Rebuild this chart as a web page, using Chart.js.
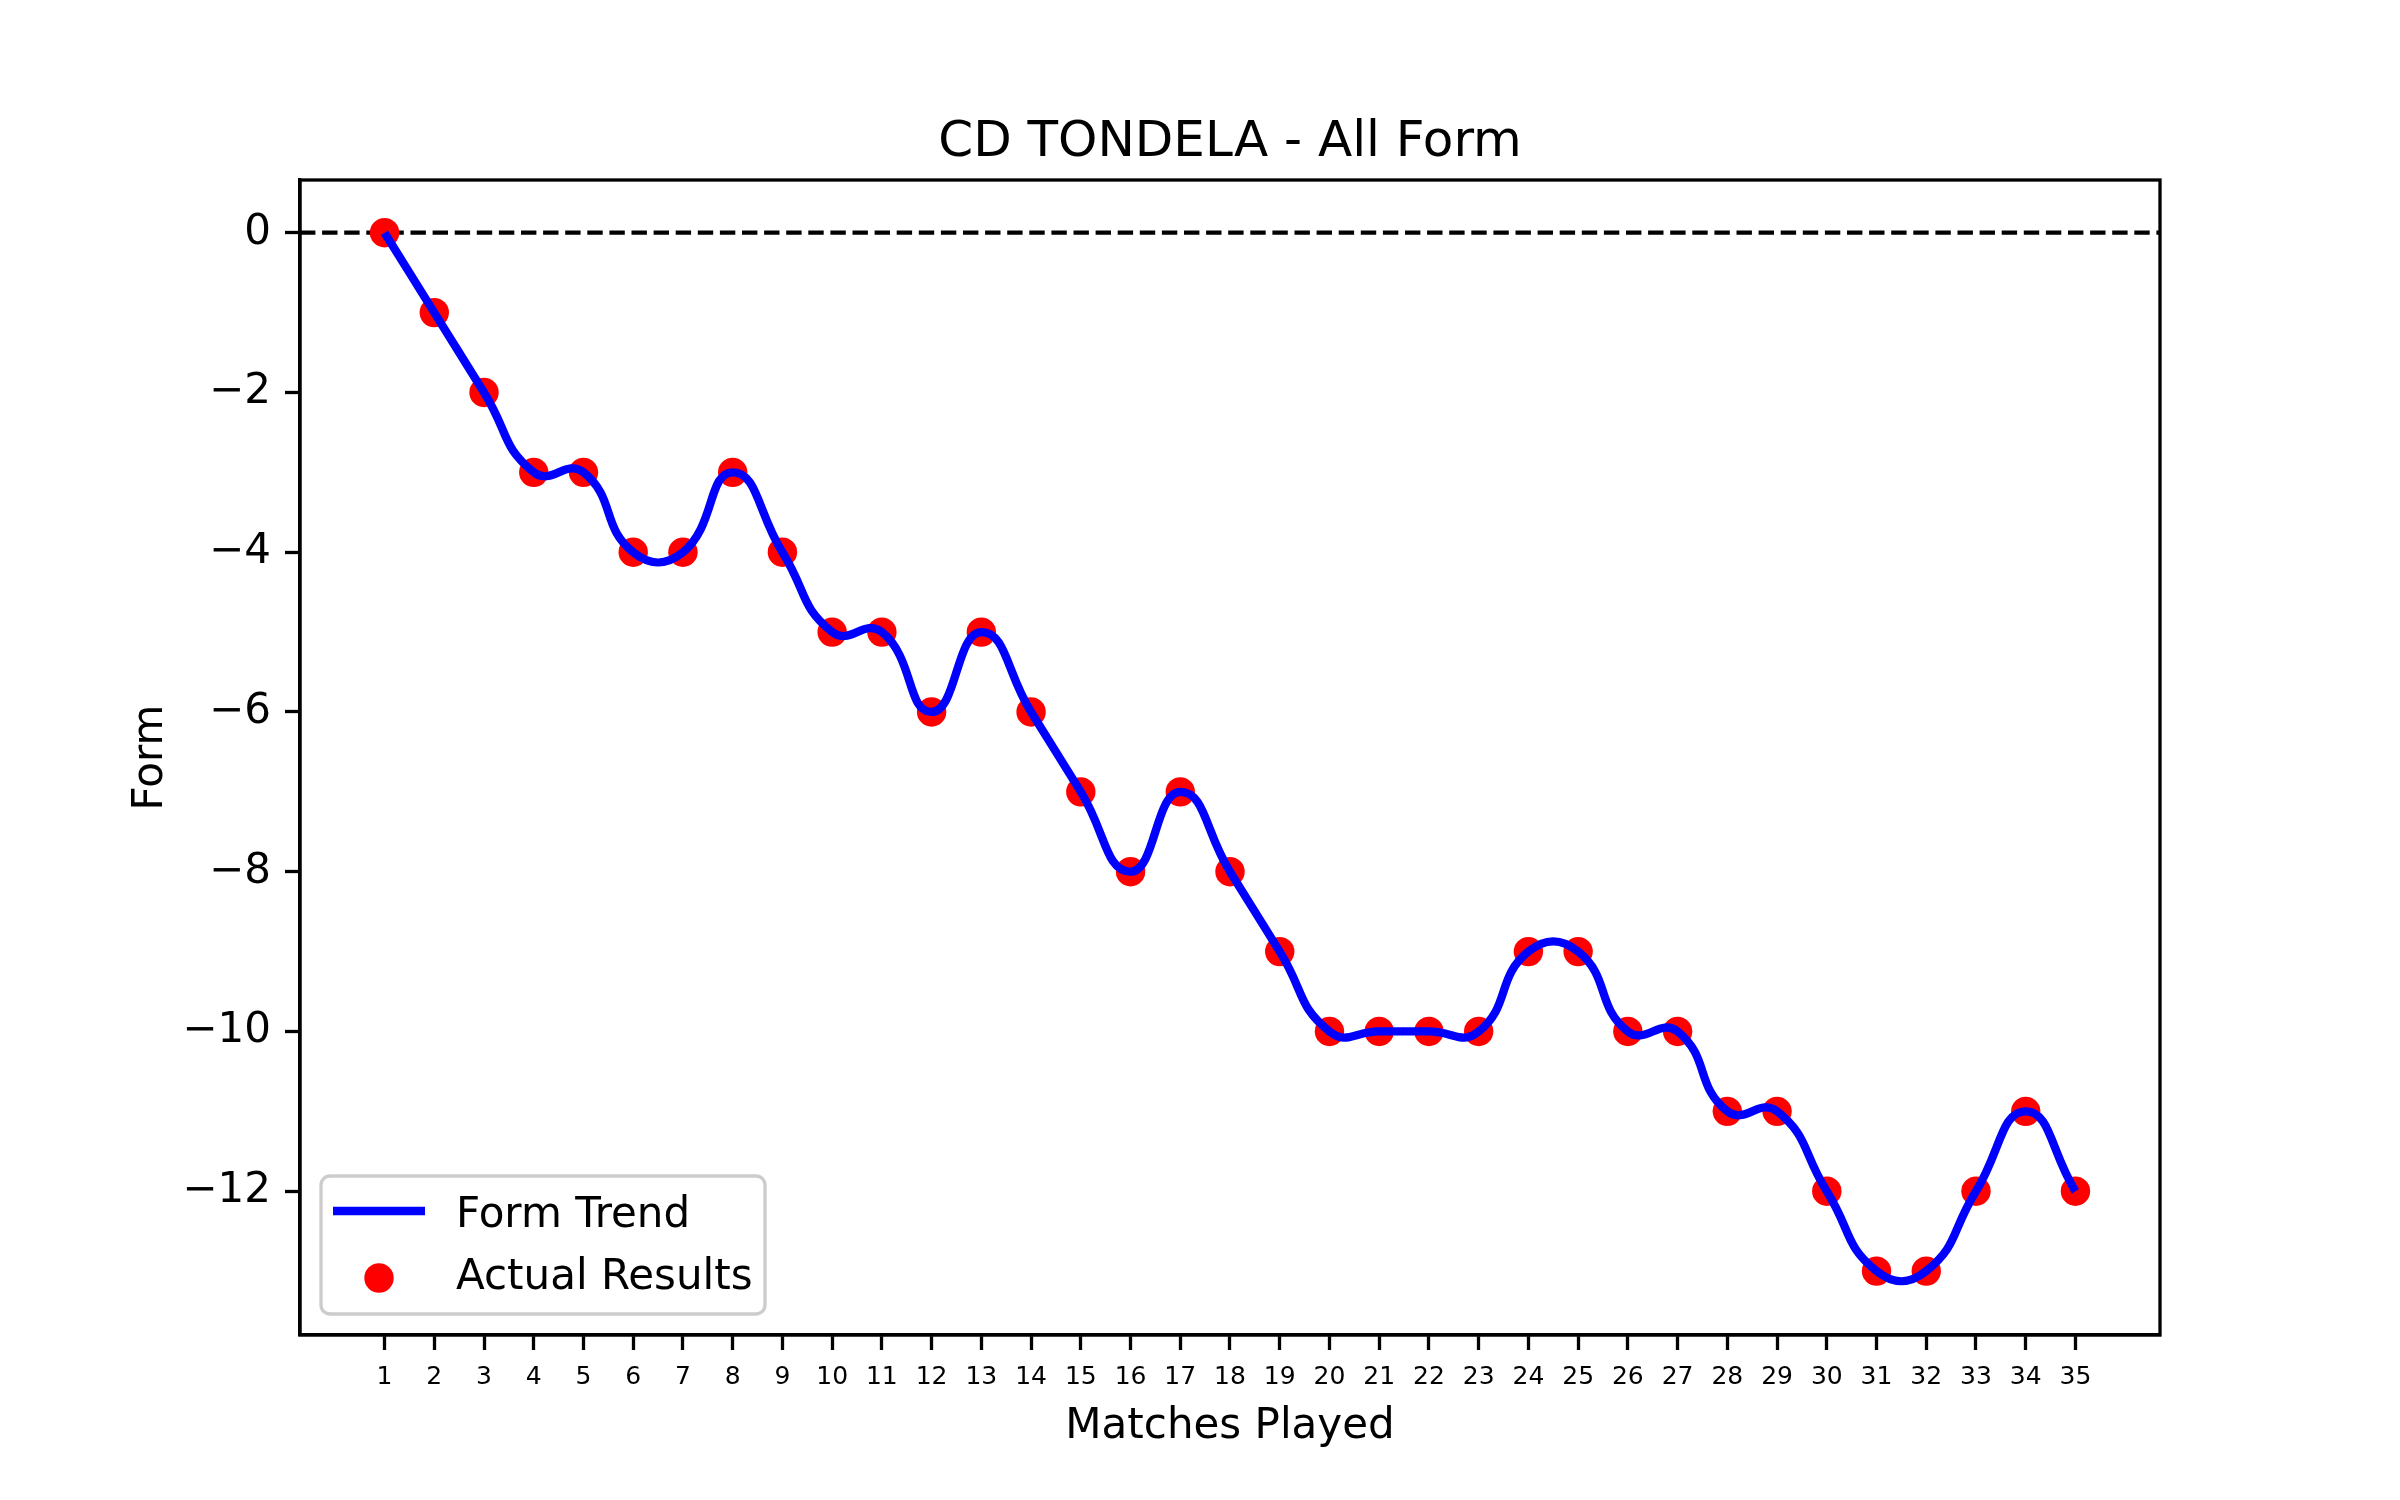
<!DOCTYPE html>
<html>
<head>
<meta charset="utf-8">
<script src="https://cdn.jsdelivr.net/npm/chart.js@4.4.1/dist/chart.umd.min.js"></script>
<style>
  html, body { margin: 0; padding: 0; background: #fff; }
  #formChart { display: block; }
</style>
</head>
<body>
<canvas id="formChart" width="2400" height="1500"></canvas>
<script>
// match numbers and form after each match
const matches = [1, 2, 3, 4, 5, 6, 7, 8, 9, 10, 11, 12, 13, 14, 15, 16, 17, 18,
  19, 20, 21, 22, 23, 24, 25, 26, 27, 28, 29, 30, 31, 32, 33, 34, 35];
const form = [0, -1, -2, -3, -3, -4, -4, -3, -4, -5, -5, -6, -5, -6, -7, -8, -7, -8,
  -9, -10, -10, -10, -10, -9, -9, -10, -10, -11, -11, -12, -13, -13, -12, -11, -12];
const yTicks = [0, -2, -4, -6, -8, -10, -12];

const TITLE = 'CD TONDELA - All Form';
const X_TITLE = 'Matches Played';
const Y_TITLE = 'Form';
const FONT = '"DejaVu Sans", sans-serif';

const points = matches.map((m, i) => ({ x: m, y: form[i] }));

// frame, zero line, titles and legend drawn matplotlib-style
const decor = {
  id: 'decor',
  beforeDatasetsDraw(chart) {
    const { ctx, chartArea: a, scales } = chart;
    const y0 = scales.y.getPixelForValue(0);
    ctx.save();
    ctx.strokeStyle = '#000';
    ctx.lineWidth = 4.2;
    ctx.setLineDash([15.4, 6.7]);
    ctx.beginPath();
    ctx.moveTo(a.left, y0);
    ctx.lineTo(a.right, y0);
    ctx.stroke();
    ctx.restore();
  },
  afterDraw(chart) {
    const { ctx, chartArea: a } = chart;
    const cx = (a.left + a.right) / 2;
    ctx.save();
    // full box
    ctx.strokeStyle = '#000';
    ctx.lineWidth = 3.3;
    ctx.strokeRect(a.left, a.top, a.right - a.left, a.bottom - a.top);

    ctx.fillStyle = '#000';
    ctx.textAlign = 'center';
    ctx.textBaseline = 'alphabetic';
    ctx.font = '50px ' + FONT;
    ctx.fillText(TITLE, cx, 156);

    ctx.font = '42px ' + FONT;
    ctx.fillText(X_TITLE, cx, 1438);

    ctx.save();
    ctx.translate(162, (a.top + a.bottom) / 2);
    ctx.rotate(-Math.PI / 2);
    ctx.fillText(Y_TITLE, 0, 0);
    ctx.restore();

    // legend box
    const lx = 321, ly = 1176, lw = 444, lh = 138, r = 9;
    ctx.beginPath();
    ctx.moveTo(lx + r, ly);
    ctx.arcTo(lx + lw, ly, lx + lw, ly + lh, r);
    ctx.arcTo(lx + lw, ly + lh, lx, ly + lh, r);
    ctx.arcTo(lx, ly + lh, lx, ly, r);
    ctx.arcTo(lx, ly, lx + lw, ly, r);
    ctx.closePath();
    ctx.fillStyle = 'rgba(255,255,255,0.8)';
    ctx.fill();
    ctx.strokeStyle = '#cccccc';
    ctx.lineWidth = 3.3;
    ctx.stroke();

    const ds = chart.data.datasets;
    ctx.strokeStyle = ds[0].borderColor;
    ctx.lineWidth = 8.3;
    ctx.beginPath();
    ctx.moveTo(333, 1211);
    ctx.lineTo(425, 1211);
    ctx.stroke();

    ctx.fillStyle = ds[1].backgroundColor;
    ctx.beginPath();
    ctx.arc(379, 1278, 14.7, 0, Math.PI * 2);
    ctx.fill();

    ctx.fillStyle = '#000';
    ctx.textAlign = 'left';
    ctx.font = '42px ' + FONT;
    ctx.fillText(ds[0].label, 456, 1227);
    ctx.fillText(ds[1].label, 456, 1289);
    ctx.restore();
  }
};

new Chart(document.getElementById('formChart'), {
  type: 'line',
  data: {
    datasets: [
      {
        label: 'Form Trend',
        data: points,
        borderColor: '#0000ff',
        borderWidth: 8.3,
        tension: 0.5,
        pointRadius: 0,
        fill: false
      },
      {
        label: 'Actual Results',
        type: 'scatter',
        data: points,
        backgroundColor: '#ff0000',
        borderWidth: 0,
        pointRadius: 14.7,
        showLine: false
      }
    ]
  },
  options: {
    responsive: false,
    devicePixelRatio: 1,
    animation: false,
    layout: { padding: { left: 0, right: 240, top: 180, bottom: 0 } },
    plugins: {
      legend: { display: false },
      title: { display: false },
      tooltip: { enabled: false }
    },
    scales: {
      x: {
        type: 'linear',
        min: -0.7,
        max: 36.7,
        afterBuildTicks: s => { s.ticks = matches.map(v => ({ value: v })); },
        afterFit: s => { s.height = 165; },
        ticks: {
          color: '#000',
          font: { family: FONT, size: 25 },
          padding: 12,
          maxRotation: 0,
          autoSkip: false
        },
        grid: {
          drawOnChartArea: false,
          tickLength: 15,
          tickColor: '#000',
          tickWidth: 3.3
        },
        border: { color: '#000', width: 3.3 }
      },
      y: {
        min: -13.8,
        max: 0.66,
        afterBuildTicks: s => { s.ticks = yTicks.map(v => ({ value: v })); },
        afterFit: s => { s.width = 300; },
        ticks: {
          color: '#000',
          font: { family: FONT, size: 42 },
          padding: 14,
          callback: v => String(v).replace('-', '\u2212')
        },
        grid: {
          drawOnChartArea: false,
          tickLength: 15,
          tickColor: '#000',
          tickWidth: 3.3
        },
        border: { color: '#000', width: 3.3 }
      }
    }
  },
  plugins: [decor]
});
</script>
</body>
</html>
